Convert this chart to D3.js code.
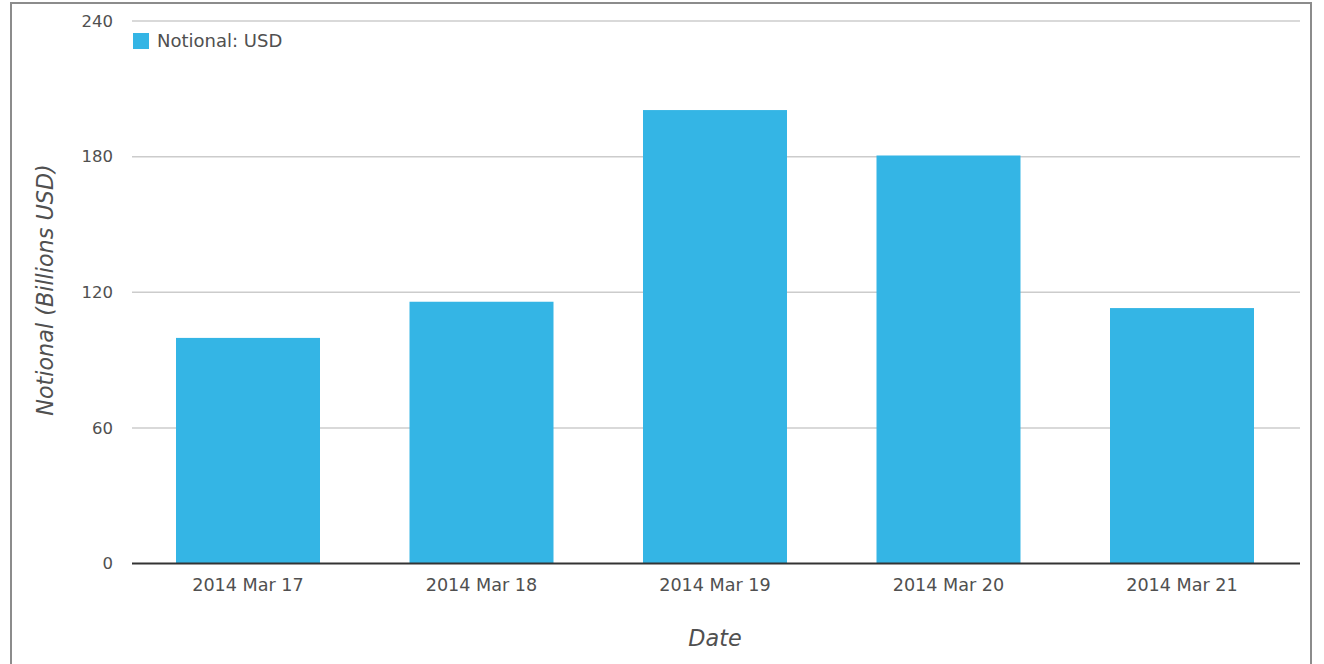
<!DOCTYPE html>
<html>
<head>
<meta charset="utf-8">
<script src="https://cdn.jsdelivr.net/npm/d3@7"></script>
<style>
  html, body { margin: 0; padding: 0; background: #fff; }
  svg { display: block; }
  text { font-family: "DejaVu Sans", Verdana, sans-serif; }
</style>
</head>
<body>
<svg id="chart" width="1324" height="664"></svg>
<script>
const categories = ["2014 Mar 17", "2014 Mar 18", "2014 Mar 19", "2014 Mar 20", "2014 Mar 21"];
const notionalUSD = [99.8, 115.8, 200.6, 180.5, 113.0];
const yTicks = [0, 60, 120, 180, 240];
const seriesName = "Notional: USD";
const yTitle = "Notional (Billions USD)";
const xTitle = "Date";

(function () {
const svg = d3.select("#chart");
const plotLeft = 131.25, plotRight = 1298.75, plotTop = 21, plotBottom = 563.5;
const gridLeft = 132, gridRight = 1300;
const barColor = "#34b5e5";
const textColor = "#505050";

// outer border
svg.append("rect")
  .attr("x", 11).attr("y", 3)
  .attr("width", 1300).attr("height", 700)
  .attr("fill", "none").attr("stroke", "#8c8c8c").attr("stroke-width", 2);

const x = d3.scaleBand().domain(categories).range([plotLeft, plotRight]).paddingInner(0.3833).paddingOuter(0.19165);
const y = d3.scaleLinear().domain([0, 240]).range([plotBottom, plotTop]);

// gridlines
svg.append("g")
  .selectAll("line")
  .data(yTicks.filter(d => d !== 0))
  .join("line")
  .attr("x1", gridLeft).attr("x2", gridRight)
  .attr("y1", d => y(d)).attr("y2", d => y(d))
  .attr("stroke", "#cccccc").attr("stroke-width", 1.5);

// y tick labels
svg.append("g")
  .selectAll("text")
  .data(yTicks)
  .join("text")
  .attr("x", 113).attr("y", d => y(d))
  .attr("dy", "0.35em")
  .attr("text-anchor", "end")
  .attr("font-size", 16.5)
  .attr("fill", textColor)
  .text(d => d);

// bars
svg.append("g")
  .selectAll("rect")
  .data(notionalUSD)
  .join("rect")
  .attr("x", (d, i) => x(categories[i]))
  .attr("width", x.bandwidth())
  .attr("y", d => y(d))
  .attr("height", d => y(0) - y(d))
  .attr("fill", barColor);

// x axis baseline
svg.append("line")
  .attr("x1", gridLeft).attr("x2", gridRight)
  .attr("y1", y(0)).attr("y2", y(0))
  .attr("stroke", "#333333").attr("stroke-width", 2);

// x tick labels
svg.append("g")
  .selectAll("text")
  .data(categories)
  .join("text")
  .attr("x", d => x(d) + x.bandwidth() / 2)
  .attr("y", 591)
  .attr("text-anchor", "middle")
  .attr("font-size", 17.6)
  .attr("fill", textColor)
  .text(d => d);

// axis titles
svg.append("text")
  .attr("x", (gridLeft + gridRight) / 2 - 1).attr("y", 646)
  .attr("text-anchor", "middle")
  .attr("font-size", 22.3)
  .attr("font-style", "italic")
  .attr("fill", textColor)
  .text(xTitle);

svg.append("text")
  .attr("transform", `translate(53, ${(165 + 415) / 2}) rotate(-90)`)
  .attr("text-anchor", "middle")
  .attr("font-size", 22.3)
  .attr("font-style", "italic")
  .attr("fill", textColor)
  .text(yTitle);

// legend
const lg = svg.append("g");
lg.append("rect")
  .attr("x", 133).attr("y", 33).attr("width", 16).attr("height", 16)
  .attr("fill", barColor);
lg.append("text")
  .attr("x", 157).attr("y", 47)
  .attr("font-size", 18)
  .attr("fill", textColor)
  .text(seriesName);
})();
</script>
</body>
</html>
